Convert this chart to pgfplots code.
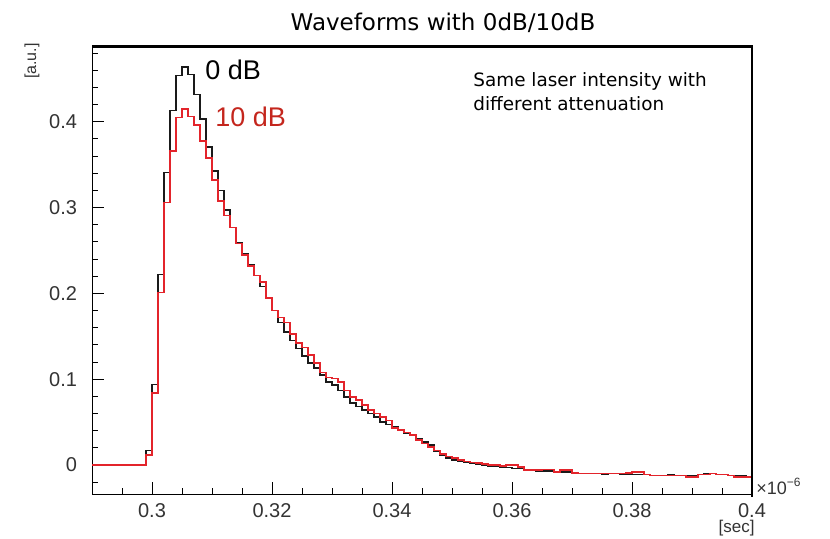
\documentclass[border=0pt]{standalone}
\usepackage{fontspec}
\setmainfont{Liberation Sans}
\newfontfamily\dejavu{DejaVu Sans}
\usepackage{pgfplots}
\usepackage{pgfplotstable}
\pgfplotsset{compat=1.18}
\definecolor{histred}{HTML}{E3242B}
\definecolor{txtred}{HTML}{C4261D}
\definecolor{histblk}{HTML}{1A1A1A}

\pgfplotstableread{
x b r
0.290 0.000 0.000
0.291 0.000 0.000
0.292 0.000 0.000
0.293 0.000 0.000
0.294 0.000 0.000
0.295 0.000 0.000
0.296 0.000 0.000
0.297 0.000 0.000
0.298 0.000 0.000
0.299 0.017 0.012
0.300 0.094 0.084
0.301 0.222 0.201
0.302 0.341 0.306
0.303 0.413 0.366
0.304 0.454 0.405
0.305 0.464 0.415
0.306 0.455 0.406
0.307 0.432 0.396
0.308 0.403 0.378
0.309 0.371 0.358
0.310 0.343 0.332
0.311 0.320 0.308
0.312 0.297 0.291
0.313 0.277 0.277
0.314 0.259 0.258
0.315 0.246 0.245
0.316 0.233 0.232
0.317 0.221 0.221
0.318 0.208 0.213
0.319 0.195 0.195
0.320 0.180 0.180
0.321 0.166 0.172
0.322 0.155 0.166
0.323 0.145 0.153
0.324 0.136 0.142
0.325 0.127 0.137
0.326 0.119 0.128
0.327 0.113 0.119
0.328 0.105 0.108
0.329 0.097 0.102
0.330 0.093 0.101
0.331 0.087 0.097
0.332 0.079 0.087
0.333 0.072 0.079
0.334 0.068 0.076
0.335 0.064 0.070
0.336 0.060 0.064
0.337 0.056 0.060
0.338 0.050 0.056
0.339 0.047 0.052
0.340 0.045 0.043
0.341 0.041 0.041
0.342 0.037 0.038
0.343 0.035 0.035
0.344 0.031 0.029
0.345 0.027 0.025
0.346 0.023 0.021
0.347 0.016 0.017
0.348 0.011 0.013
0.349 0.008 0.010
0.350 0.006 0.008
0.351 0.004 0.006
0.352 0.003 0.004
0.353 0.002 0.003
0.354 0.001 0.002
0.355 0.000 0.001
0.356 -0.001 0.000
0.357 -0.001 0.000
0.358 -0.002 -0.001
0.359 -0.003 0.000
0.360 -0.004 0.000
0.361 -0.004 -0.002
0.362 -0.006 -0.006
0.363 -0.006 -0.006
0.364 -0.007 -0.006
0.365 -0.007 -0.005
0.366 -0.007 -0.005
0.367 -0.008 -0.008
0.368 -0.008 -0.006
0.369 -0.008 -0.006
0.370 -0.009 -0.009
0.371 -0.010 -0.010
0.372 -0.010 -0.010
0.373 -0.010 -0.010
0.374 -0.010 -0.010
0.375 -0.011 -0.010
0.376 -0.010 -0.010
0.377 -0.010 -0.010
0.378 -0.011 -0.010
0.379 -0.011 -0.009
0.380 -0.011 -0.008
0.381 -0.011 -0.008
0.382 -0.011 -0.011
0.383 -0.012 -0.012
0.384 -0.012 -0.012
0.385 -0.012 -0.012
0.386 -0.011 -0.012
0.387 -0.012 -0.012
0.388 -0.012 -0.012
0.389 -0.013 -0.014
0.390 -0.013 -0.014
0.391 -0.011 -0.011
0.392 -0.010 -0.011
0.393 -0.010 -0.010
0.394 -0.011 -0.011
0.395 -0.011 -0.011
0.396 -0.012 -0.012
0.397 -0.013 -0.014
0.398 -0.013 -0.014
0.399 -0.014 -0.014
0.400 -0.014 -0.014
}\wave

\begin{document}
\begin{tikzpicture}
\path[use as bounding box] (0,0) rectangle (415pt,269pt);
\begin{axis}[
  at={(46pt,22pt)}, anchor=south west,
  scale only axis, width=330pt, height=223.75pt,
  xmin=0.29, xmax=0.4, ymin=-0.0338, ymax=0.4878,
  axis line style={black, line width=0.5pt},
  tick align=inside, xtick pos=bottom, ytick pos=left,
  major tick length=6pt, minor tick length=3pt,
  tick style={black, line width=0.5pt},
  xtick={0.3,0.32,0.34,0.36,0.38,0.4},
  xticklabels={0.3,0.32,0.34,0.36,0.38,0.4},
  minor xtick={0.295,0.305,0.31,0.315,0.325,0.33,0.335,0.345,0.35,0.355,0.365,0.37,0.375,0.385,0.39,0.395},
  ytick={0,0.1,0.2,0.3,0.4},
  yticklabels={0,0.1,0.2,0.3,0.4},
  minor ytick={-0.02,0.02,0.04,0.06,0.08,0.12,0.14,0.16,0.18,0.22,0.24,0.26,0.28,0.32,0.34,0.36,0.38,0.42,0.44,0.46,0.48},
  ticklabel style={font=\fontsize{10}{12}\selectfont, text=black!80},
  yticklabel style={xshift=-4pt},
  xticklabel style={yshift=-1pt},
  /pgf/number format/assume math mode=true,
  clip=true,
]
\addplot[const plot mark left, histblk, line width=0.8pt] table[x=x, y=b] {\wave};
\addplot[const plot mark left, histred, line width=0.8pt] table[x=x, y=r] {\wave};
\end{axis}
% thick top and right frame
\draw[line width=1.4pt, black] (46pt,245.75pt) -- (376pt,245.75pt) -- (376pt,20.5pt);
% title
\node[font=\dejavu\fontsize{11.5}{13}\selectfont, anchor=base] at (221.5pt,254pt) {Waveforms with 0dB/10dB};
% labels on curves
\node[font=\fontsize{13.5}{15}\selectfont, anchor=west, inner sep=0pt] at (102.5pt,234pt) {0 dB};
\node[font=\fontsize{13.5}{15}\selectfont, anchor=west, inner sep=0pt, text=txtred] at (107.5pt,210.5pt) {10 dB};
% annotation
\node[font=\dejavu\fontsize{9.2}{11}\selectfont, anchor=base west, inner sep=0pt] at (236.5pt,226pt) {Same laser intensity with};
\node[font=\dejavu\fontsize{9.2}{11}\selectfont, anchor=base west, inner sep=0pt] at (236.5pt,214pt) {different attenuation};
% axis titles
\node[font=\fontsize{8}{9}\selectfont, rotate=90, anchor=east, inner sep=0pt, text=black!80] at (16pt,247.5pt) {[a.u.]};
\node[font=\fontsize{8.5}{9}\selectfont, anchor=south east, inner sep=0pt, text=black!80] at (377.5pt,0.6pt) {[sec]};
\node[font=\fontsize{9}{10}\selectfont, anchor=base west, inner sep=0pt, text=black!80] at (378pt,22pt) {×10\textsuperscript{−6}};
\end{tikzpicture}
\end{document}
